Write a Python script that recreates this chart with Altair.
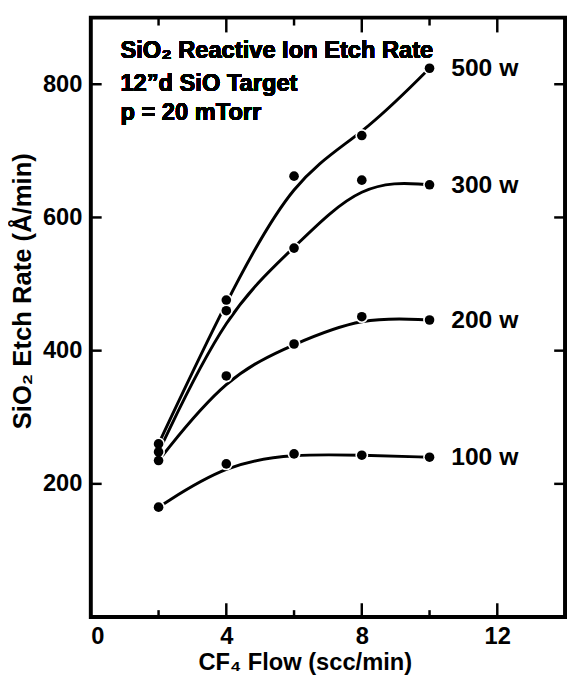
import altair as alt
import pandas as pd

# ---- data ----
flow = [2, 4, 6, 8, 10]
rate_100w = [165, 230, 245, 243, 240]
rate_200w = [235, 362, 410, 451, 446]
rate_300w = [248, 460, 554, 656, 649]
rate_500w = [260, 476, 662, 723, 824]
power_labels = ["100 w", "200 w", "300 w", "500 w"]

x_tick_labels = [0, 4, 8, 12]
x_major_ticks = [4, 8, 12]
x_minor_ticks = [2, 6, 10]
y_ticks = [200, 400, 600, 800]
x_domain = [0, 14]
y_domain = [0, 900]

header_lines = ["SiO\u2082 Reactive Ion Etch Rate", "12\u201dd SiO Target", "p = 20 mTorr"]

series = [rate_100w, rate_200w, rate_300w, rate_500w]
rows = []
for label, vals in zip(power_labels, series):
    for f, r in zip(flow, vals):
        rows.append({"power": label, "flow": f, "rate": r})
df = pd.DataFrame(rows)
last = pd.DataFrame({"power": power_labels,
                     "flow": [flow[-1]] * len(series),
                     "rate": [v[-1] for v in series]})

W, H = 481, 608
FONT = "Liberation Sans"
xs = alt.Scale(domain=x_domain, nice=False, zero=False)
ys = alt.Scale(domain=y_domain, nice=False, zero=False)

AX = alt.Axis(values=x_tick_labels, ticks=False, domain=False, grid=False,
              labelPadding=8, format="d",
              title="CF\u2084 Flow (scc/min)", titleX=217, titleY=53, titleFontSize=24,
              titleBaseline="alphabetic", titleAlign="center")
AY = alt.Axis(values=y_ticks, ticks=False, domain=False, grid=False,
              labelPadding=9, format="d",
              title="SiO\u2082 Etch Rate (\u00c5/min)", titleX=-56, titleY=277, titleFontSize=26)


def X(field=None, datum=None):
    if datum is not None:
        return alt.X(datum=datum, scale=xs, axis=AX, title=AX.title)
    return alt.X(field, scale=xs, axis=AX, title=AX.title)


def Y(field=None, datum=None):
    if datum is not None:
        return alt.Y(datum=datum, scale=ys, axis=AY, title=AY.title)
    return alt.Y(field, scale=ys, axis=AY, title=AY.title)


base = alt.Chart(df)

lines = base.mark_line(interpolate="basis", color="black", strokeWidth=3).encode(
    x=X("flow:Q"), y=Y("rate:Q"), detail="power:N")
halo = base.mark_circle(size=170, color="white", opacity=1).encode(x=X("flow:Q"), y=Y("rate:Q"))
dots = base.mark_circle(size=95, color="black", opacity=1).encode(x=X("flow:Q"), y=Y("rate:Q"))
labels = alt.Chart(last).mark_text(align="left", baseline="middle", dx=22, font=FONT,
                                   fontSize=25, fontWeight="bold", color="black").encode(
    x=X("flow:Q"), y=Y("rate:Q"), text="power:N")

# inward ticks on all four sides
tmaj = pd.DataFrame({"v": x_major_ticks})
tmin = pd.DataFrame({"v": x_minor_ticks})
ty = pd.DataFrame({"v": y_ticks})
tw = 2.5
rule = dict(color="black", strokeWidth=tw)
ticks = [
    alt.Chart(tmaj).mark_rule(**rule).encode(x=X("v:Q"), y=Y(datum=y_domain[0]), y2=alt.value(H - 14)),
    alt.Chart(tmin).mark_rule(**rule).encode(x=X("v:Q"), y=Y(datum=y_domain[0]), y2=alt.value(H - 7)),
    alt.Chart(tmaj).mark_rule(**rule).encode(x=X("v:Q"), y=Y(datum=y_domain[1]), y2=alt.value(15)),
    alt.Chart(tmin).mark_rule(**rule).encode(x=X("v:Q"), y=Y(datum=y_domain[1]), y2=alt.value(8)),
    alt.Chart(ty).mark_rule(**rule).encode(y=Y("v:Q"), x=X(datum=x_domain[0]), x2=alt.value(11)),
    alt.Chart(ty).mark_rule(**rule).encode(y=Y("v:Q"), x=X(datum=x_domain[1]), x2=alt.value(W - 11)),
]

header = []
for txt, py in zip(header_lines, [41, 74, 104]):
    header.append(alt.Chart(df).mark_text(text=txt, align="left", baseline="alphabetic",
                                          font=FONT, fontSize=24, fontWeight="bold",
                                          color="black").encode(x=alt.value(30), y=alt.value(py)))

chart = alt.layer(*ticks, lines, halo, dots, labels, *header).properties(
    width=W, height=H,
    padding={"left": 84, "top": 5, "right": 2, "bottom": 55},
    autosize=alt.AutoSizeParams(type="none"),
    background="white",
).configure_view(stroke="black", strokeWidth=4).configure_axis(
    labelFont=FONT, labelFontSize=24, labelFontWeight="bold", labelColor="black",
    titleFont=FONT, titleFontWeight="bold", titleColor="black",
)

chart.save("out.html", embed_options={"renderer": "svg", "actions": False})
